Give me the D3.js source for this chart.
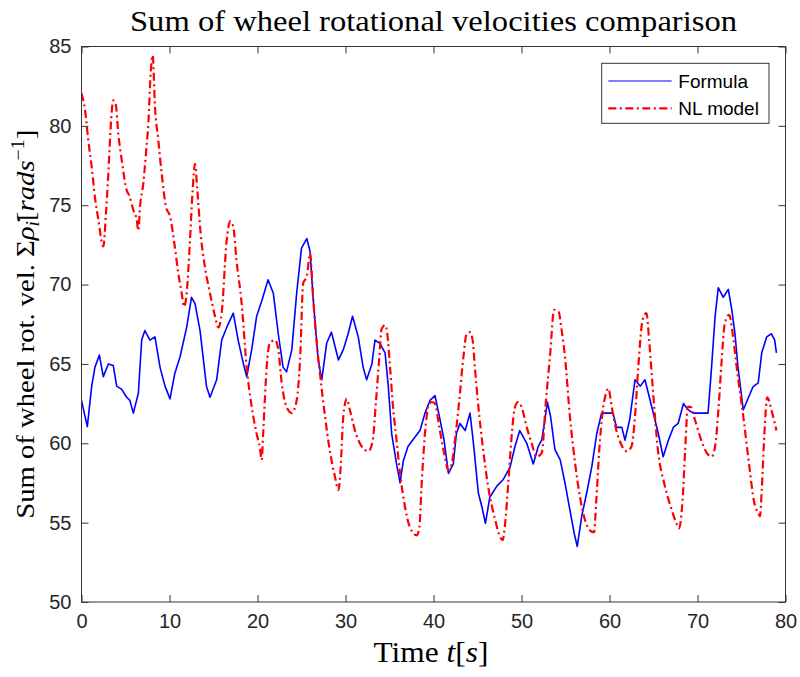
<!DOCTYPE html>
<html>
<head>
<meta charset="utf-8">
<script src="https://cdn.jsdelivr.net/npm/d3@7"></script>
<style>
  html, body { margin: 0; padding: 0; background: #fff; }
  svg { display: block; }
</style>
</head>
<body>
<div id="chart"></div>
<script>
// ---------------- data ----------------
const formulaT = [0.0,0.4,0.66,1.16,1.53,2.03,2.48,3.05,3.61,4.0,4.57,5.13,5.5,5.89,6.46,6.84,7.2,7.78,8.35,8.92,9.49,10.06,10.6,11.2,11.95,12.5,12.9,13.47,14.2,14.6,15.36,15.93,16.5,17.25,17.8,18.4,18.77,19.34,19.9,20.5,21.2,21.8,22.36,22.9,23.3,23.9,24.45,25.0,25.6,25.97,26.34,26.9,27.3,27.86,28.4,29.2,29.75,30.3,30.8,31.45,32.0,32.4,33.0,33.35,33.9,34.5,34.86,35.25,35.8,36.2,36.57,37.1,37.9,38.47,39.03,39.6,40.17,40.74,41.2,41.7,42.25,42.6,43.0,43.6,44.15,44.5,45.1,45.5,45.9,46.4,47.2,47.9,48.7,49.26,49.8,50.6,51.34,51.9,52.3,52.67,52.94,53.3,53.8,54.4,54.94,55.5,56.0,56.34,56.84,57.4,57.98,58.55,59.1,59.87,60.4,60.8,61.4,61.76,62.3,62.9,63.5,64.03,64.8,65.55,66.1,66.7,67.25,67.8,68.4,68.95,69.5,70.1,70.66,71.2,71.6,72.0,72.36,72.93,73.5,73.9,74.26,74.6,75.2,75.8,76.3,76.9,77.3,77.86,78.4,78.77,78.97];
const formulaV = [62.7,61.7,61.05,63.6,64.8,65.56,64.2,65.0,64.9,63.6,63.4,62.9,62.7,61.9,63.15,66.5,67.1,66.5,66.7,64.8,63.6,62.8,64.4,65.45,67.3,69.2,68.8,67.1,63.6,62.9,64.0,66.5,67.3,68.2,66.5,65.0,64.2,65.9,68.0,69.0,70.3,69.45,66.9,64.8,64.5,65.9,69.45,72.3,72.9,72.1,69.0,65.25,64.0,66.3,67.0,65.25,65.9,66.9,68.0,66.7,64.8,64.0,65.0,66.5,66.3,65.7,63.6,60.6,58.7,57.5,58.9,59.8,60.4,60.8,61.9,62.7,63.0,61.5,60.2,58.1,58.7,60.6,61.25,60.8,61.9,60.2,56.85,56.0,54.96,56.6,57.3,57.7,58.5,59.8,60.8,60.0,58.7,59.8,60.2,61.5,62.6,61.7,59.6,58.95,57.5,55.8,54.3,53.5,55.4,56.85,58.5,60.6,61.9,61.9,61.9,61.0,61.0,60.2,61.5,64.0,63.6,64.0,62.3,60.6,59.15,60.2,61.0,61.25,62.5,62.1,61.9,61.9,61.9,61.9,64.8,68.0,69.8,69.2,69.7,68.4,66.9,64.8,62.1,62.9,63.55,63.8,65.7,66.7,66.9,66.5,65.7];

const nlT = [0.0,0.4,0.77,1.16,1.53,1.91,2.48,2.78,3.05,3.32,3.61,3.88,4.18,4.57,5.13,5.43,5.89,6.27,6.46,6.65,7.03,7.33,7.6,7.86,8.09,8.35,8.73,9.11,9.6,10.06,10.6,11.0,11.39,11.65,11.95,12.33,12.63,12.9,13.16,13.54,14.03,14.6,15.17,15.55,15.93,16.5,16.9,17.25,17.6,18.2,18.77,19.34,19.9,20.28,20.47,20.66,21.04,21.4,22.0,22.36,22.75,23.3,23.9,24.45,24.83,25.2,25.6,25.97,26.34,26.7,27.1,27.67,28.2,28.8,29.2,29.45,29.75,30.14,30.5,31.08,31.84,32.6,33.1,33.47,33.85,34.1,34.5,34.75,35.06,35.4,35.8,36.2,36.76,37.3,38.1,38.4,38.66,39.03,39.4,39.8,40.17,40.66,41.2,41.7,42.07,42.44,42.93,43.4,43.77,44.15,44.45,44.7,45.1,45.6,46.2,47.0,47.56,47.86,48.1,48.5,48.9,49.26,49.64,50.0,50.6,51.16,51.7,52.3,52.75,53.24,53.7,54.2,54.57,54.94,55.5,56.1,56.65,57.2,57.8,58.24,58.5,58.84,59.2,59.6,59.87,60.25,60.7,61.27,61.95,62.5,62.9,63.27,63.77,64.2,64.5,64.9,65.5,66.3,67.07,67.6,67.9,68.3,68.6,68.9,69.2,69.7,70.3,71.05,71.6,72.0,72.4,72.75,73.1,73.6,74.0,74.45,75.2,75.9,76.4,76.9,77.1,77.3,77.6,77.93,78.4,78.97];
const nlV = [82.05,81.0,79.1,77.4,75.5,74.1,72.4,74.5,77.0,79.95,81.6,81.4,79.5,77.85,75.95,75.6,74.7,74.1,73.4,74.9,76.4,78.3,80.2,83.3,84.45,81.2,79.1,77.0,74.9,74.3,72.4,70.7,69.45,68.6,69.45,72.8,75.95,77.6,75.95,73.2,71.1,69.45,68.0,67.3,68.2,72.8,74.0,73.65,71.6,68.8,64.8,62.3,60.6,59.7,58.95,60.8,64.8,66.3,66.5,65.9,63.8,62.3,61.9,62.7,65.2,70.1,70.5,71.97,69.0,66.5,64.4,61.7,59.6,57.9,57.05,58.5,61.7,62.8,62.1,60.8,59.8,59.5,60.2,62.7,65.45,67.2,67.45,66.9,64.8,62.3,60.2,58.1,56.0,54.74,54.2,54.74,57.5,60.6,62.3,62.6,62.5,61.0,59.4,58.3,58.7,60.2,62.7,65.45,66.9,67.0,66.5,64.8,62.3,59.8,57.3,55.2,54.1,53.9,54.74,57.5,60.6,62.3,62.6,62.3,61.0,60.0,59.15,59.4,62.5,65.5,68.4,68.3,67.1,65.45,61.7,58.7,56.6,55.2,54.5,54.4,56.4,59.6,61.9,63.15,63.46,62.3,61.0,60.0,59.5,59.8,61.7,64.8,67.8,68.2,66.5,63.6,59.6,57.3,55.8,54.96,54.64,56.4,59.6,62.3,62.3,61.5,60.4,59.4,59.15,59.8,62.3,65.25,67.55,68.1,66.9,64.8,61.7,58.5,56.4,55.6,55.4,57.05,60.6,62.9,62.1,60.8];

const xTicks = [0,10,20,30,40,50,60,70,80];
const yTicks = [50,55,60,65,70,75,80,85];
const seriesNames = ["Formula","NL model"];
const titleText = "Sum of wheel rotational velocities comparison";

// ---------------- layout ----------------
const W = 800, H = 677;
const L = 81.5, R = 785.5, T = 46.5, B = 602;
const axisColor = "#333";

const svg = d3.select("#chart").append("svg")
  .attr("width", W).attr("height", H)
  .attr("viewBox", `0 0 ${W} ${H}`);

const x = d3.scaleLinear().domain([0, 80]).range([L, R]);
const y = d3.scaleLinear().domain([50, 85]).range([B, T]);

svg.append("defs").append("clipPath").attr("id","plotclip")
  .append("rect").attr("x", L).attr("y", T).attr("width", R-L).attr("height", B-T);

// ---------------- lines ----------------
const formulaData = formulaT.map((t,i)=>({t, v: formulaV[i]}));
const nlData = nlT.map((t,i)=>({t, v: nlV[i]}));

const lineLin = d3.line().x(d=>x(d.t)).y(d=>y(d.v)).curve(d3.curveLinear);
const lineSmooth = d3.line().x(d=>x(d.t)).y(d=>y(d.v)).curve(d3.curveMonotoneX);

const g = svg.append("g").attr("clip-path","url(#plotclip)");
g.append("path").datum(formulaData)
  .attr("d", lineLin)
  .attr("fill","none").attr("stroke","#0000ff").attr("stroke-width",1.6)
  .attr("stroke-linejoin","round");
g.append("path").datum(nlData)
  .attr("d", lineSmooth)
  .attr("fill","none").attr("stroke","#ff0000").attr("stroke-width",2.2)
  .attr("stroke-dasharray","8,3.5,2,3.5");

// ---------------- axes ----------------
const tickFont = "'Liberation Sans', Arial, Helvetica, sans-serif";
const xAxis = svg.append("g").attr("transform",`translate(0,${B})`)
  .call(d3.axisBottom(x).tickValues(xTicks).tickSize(-7).tickPadding(12).tickFormat(d3.format("d")));
const xAxisTop = svg.append("g").attr("transform",`translate(0,${T})`)
  .call(d3.axisTop(x).tickValues(xTicks).tickSize(-7).tickFormat(""));
const yAxis = svg.append("g").attr("transform",`translate(${L},0)`)
  .call(d3.axisLeft(y).tickValues(yTicks).tickSize(-7).tickPadding(10).tickFormat(d3.format("d")));
const yAxisRight = svg.append("g").attr("transform",`translate(${R},0)`)
  .call(d3.axisRight(y).tickValues(yTicks).tickSize(-7).tickFormat(""));

[xAxis, xAxisTop, yAxis, yAxisRight].forEach(a => {
  a.select(".domain").remove();
  a.selectAll(".tick line").attr("stroke", axisColor).attr("stroke-width",1);
  a.selectAll(".tick text").attr("fill","#262626")
    .style("font-family", tickFont).style("font-size","20px");
});
svg.append("rect").attr("x",L).attr("y",T).attr("width",R-L).attr("height",B-T)
  .attr("fill","none").attr("stroke",axisColor).attr("stroke-width",1);

// ---------------- titles ----------------
const serif = "'Liberation Serif', 'DejaVu Serif', serif";
svg.append("text")
  .attr("x", (L+R)/2).attr("y", 31)
  .attr("text-anchor","middle")
  .attr("textLength", 607).attr("lengthAdjust","spacingAndGlyphs")
  .style("font-family", serif).style("font-size","29px").attr("fill","#000")
  .text(titleText);

const xl = svg.append("text")
  .attr("x", 431).attr("y", 662)
  .attr("text-anchor","middle")
  .attr("textLength", 115).attr("lengthAdjust","spacingAndGlyphs")
  .style("font-family", serif).style("font-size","29px").attr("fill","#000");
xl.append("tspan").text("Time ");
xl.append("tspan").style("font-style","italic").text("t");
xl.append("tspan").text("[");
xl.append("tspan").style("font-style","italic").text("s");
xl.append("tspan").text("]");

const yl = svg.append("text")
  .attr("transform", `translate(34,${(T+B)/2}) rotate(-90)`)
  .attr("text-anchor","middle")
  .attr("textLength", 389).attr("lengthAdjust","spacingAndGlyphs")
  .style("font-family", serif).style("font-size","26px").attr("fill","#000");
yl.append("tspan").text("Sum of wheel rot. vel. Σ");
yl.append("tspan").style("font-style","italic").text("ρ\u0307");
yl.append("tspan").style("font-style","italic").style("font-size","18px").attr("dy", 5).text("i");
yl.append("tspan").attr("dy", -5).text("[");
yl.append("tspan").style("font-style","italic").text("rads");
yl.append("tspan").style("font-size","18px").attr("dy", -10).text("−1");
yl.append("tspan").attr("dy", 10).text("]");

// ---------------- legend ----------------
const lg = svg.append("g");
lg.append("rect").attr("x",601.7).attr("y",63.3).attr("width",167.3).attr("height",60)
  .attr("fill","#fff").attr("stroke",axisColor).attr("stroke-width",1);
const legendItems = [
  {name: seriesNames[0], color:"#0000ff", dash:null, w:1.2, yy:81},
  {name: seriesNames[1], color:"#ff0000", dash:"8,3.5,2,3.5", w:2.2, yy:108.3}
];
legendItems.forEach(it => {
  const ln = lg.append("line").attr("x1",608.3).attr("x2",671.7)
    .attr("y1",it.yy).attr("y2",it.yy)
    .attr("stroke",it.color).attr("stroke-width",it.w);
  if (it.dash) ln.attr("stroke-dasharray", it.dash);
  lg.append("text").attr("x",678.3).attr("y",it.yy).attr("dy","0.35em")
    .style("font-family", tickFont).style("font-size","19px").attr("fill","#000")
    .text(it.name);
});
</script>
</body>
</html>
